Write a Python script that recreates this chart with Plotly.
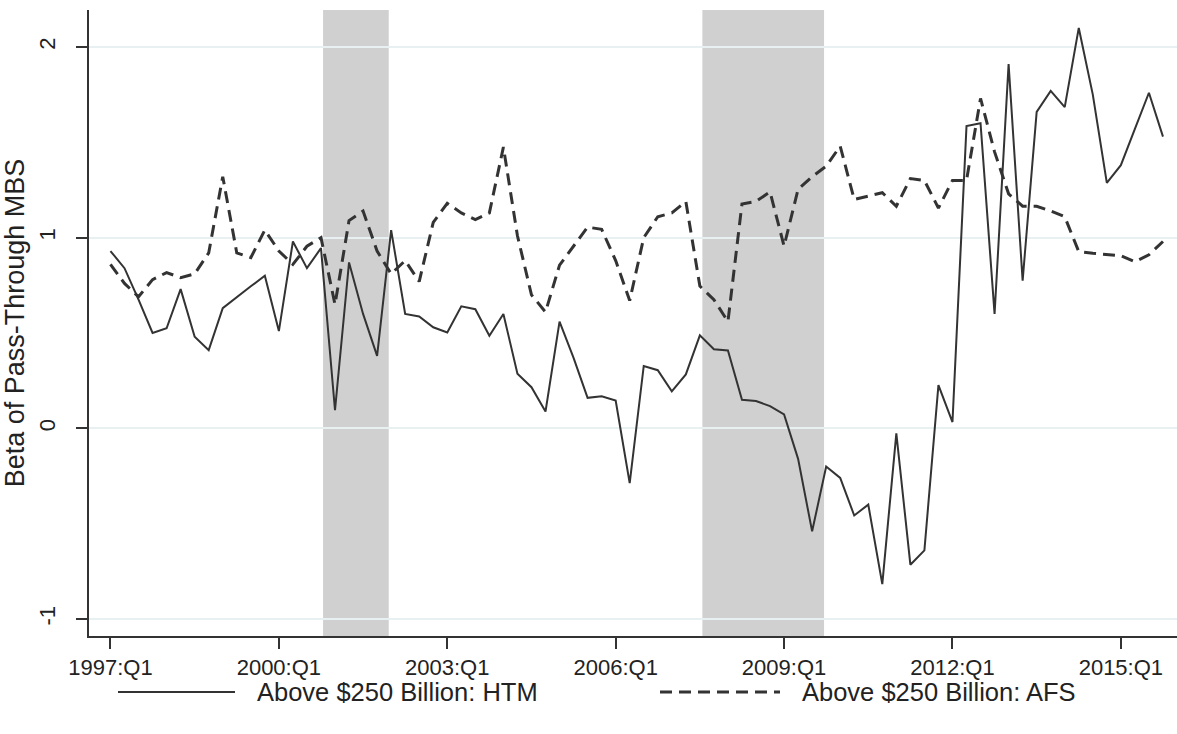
"""Beta of pass-through MBS for banks above $250 billion: HTM vs AFS."""

import plotly.graph_objects as go

# Quarterly estimates, 1997:Q1 .. 2015:Q4
start_year = 1997
htm = [
    0.93, 0.84, 0.675, 0.50, 0.525, 0.73, 0.48, 0.41, 0.63, 0.69,
    0.745, 0.80, 0.51, 0.98, 0.84, 0.945, 0.095, 0.87, 0.60, 0.38,
    1.04, 0.60, 0.587, 0.53, 0.503, 0.64, 0.625, 0.486, 0.60, 0.287,
    0.216, 0.088, 0.56, 0.37, 0.16, 0.168, 0.146, -0.287, 0.327, 0.305,
    0.194, 0.283, 0.488, 0.415, 0.408, 0.15, 0.143, 0.117, 0.073, -0.16,
    -0.54, -0.20, -0.26, -0.457, -0.40, -0.817, -0.026, -0.715, -0.64, 0.227,
    0.033, 1.585, 1.60, 0.60, 1.91, 0.775, 1.66, 1.77, 1.685, 2.10,
    1.75, 1.287, 1.38, 1.57, 1.76, 1.53,
]
afs = [
    0.86, 0.76, 0.69, 0.78, 0.817, 0.79, 0.81, 0.92, 1.32, 0.92,
    0.895, 1.04, 0.93, 0.86, 0.955, 1.00, 0.65, 1.09, 1.14, 0.93,
    0.81, 0.88, 0.77, 1.08, 1.18, 1.13, 1.095, 1.13, 1.475, 1.01,
    0.70, 0.61, 0.856, 0.956, 1.055, 1.044, 0.88, 0.67, 1.00, 1.11,
    1.13, 1.19, 0.746, 0.675, 0.56, 1.177, 1.19, 1.24, 0.956, 1.254,
    1.32, 1.375, 1.48, 1.20, 1.22, 1.236, 1.165, 1.31, 1.30, 1.155,
    1.30, 1.30, 1.73, 1.45, 1.23, 1.165, 1.165, 1.14, 1.11, 0.927,
    0.918, 0.91, 0.905, 0.874, 0.91, 0.98,
]
# Recession bands, in quarters since 1997:Q1
recessions = [(15.15, 19.83), (42.18, 50.85)]
tick_quarters = [0, 12, 24, 36, 48, 60, 72]

quarters = list(range(len(htm)))
tick_text = [f"{start_year + q // 4}:Q{q % 4 + 1}" for q in tick_quarters]

LINE = "#333333"
FONT = "Liberation Sans, Arial, sans-serif"
DASH = "12px,7px"

fig = go.Figure()

fig.add_trace(
    go.Scatter(
        x=quarters,
        y=htm,
        mode="lines",
        name="Above $250 Billion: HTM",
        line=dict(color=LINE, width=2),
        showlegend=False,
    )
)
fig.add_trace(
    go.Scatter(
        x=quarters,
        y=afs,
        mode="lines",
        name="Above $250 Billion: AFS",
        line=dict(color=LINE, width=3, dash=DASH),
        showlegend=False,
    )
)

# Shaded recessions
for x0, x1 in recessions:
    fig.add_shape(
        type="rect",
        xref="x",
        yref="paper",
        x0=x0,
        x1=x1,
        y0=0,
        y1=1,
        fillcolor="#d0d0d0",
        line_width=0,
        layer="below",
    )

# Hand-drawn legend below the plot (wide line samples like the original)
W, H = 1177, 734
ML, MT, MB = 89, 10, 98
pw, ph = W - ML, H - MT - MB
legend_items = [
    (118, 235, "solid", 2, "Above $250 Billion: HTM", 255),
    (660, 780, DASH, 3, "Above $250 Billion: AFS", 800),
]
ly = 692
for xa, xb, dash, width, label, tx in legend_items:
    fig.add_shape(
        type="line",
        xref="paper",
        yref="paper",
        x0=(xa - ML) / pw,
        x1=(xb - ML) / pw,
        y0=(H - MB - ly) / ph,
        y1=(H - MB - ly) / ph,
        line=dict(color=LINE, width=width, dash=dash),
    )
    fig.add_annotation(
        xref="paper",
        yref="paper",
        x=(tx - ML) / pw,
        y=(H - MB - ly) / ph,
        xanchor="left",
        yanchor="middle",
        text=label,
        showarrow=False,
        font=dict(size=25.5, color="#222222", family=FONT),
    )

fig.update_layout(
    width=W,
    height=H,
    margin=dict(l=ML, r=0, t=MT, b=MB),
    plot_bgcolor="white",
    paper_bgcolor="white",
    font=dict(family=FONT, color="#222222", size=22),
    xaxis=dict(
        range=[-1.53, 76.0],
        tickvals=tick_quarters,
        ticktext=tick_text,
        ticks="outside",
        ticklen=11,
        tickwidth=1.5,
        tickcolor=LINE,
        showgrid=False,
        zeroline=False,
        showline=True,
        linecolor=LINE,
        linewidth=2,
        tickfont=dict(size=22),
        ticklabelstandoff=0,
    ),
    yaxis=dict(
        range=[-1.089, 2.194],
        tickvals=[-1, 0, 1, 2],
        ticktext=["-1", "0", "1", "2"],
        tickangle=-90,
        ticks="outside",
        ticklen=11,
        tickwidth=1.5,
        tickcolor=LINE,
        showgrid=True,
        gridcolor="#e8f0f1",
        gridwidth=2,
        zeroline=False,
        showline=True,
        linecolor=LINE,
        linewidth=2,
        tickfont=dict(size=22),
        ticklabelstandoff=12,
        title=dict(text="Beta of Pass-Through MBS", font=dict(size=27), standoff=8),
    ),
)

fig.write_html(
    "out.html",
    config={"displayModeBar": False},
    post_script="document.body.style.margin='0';document.body.style.overflow='hidden';",
)
